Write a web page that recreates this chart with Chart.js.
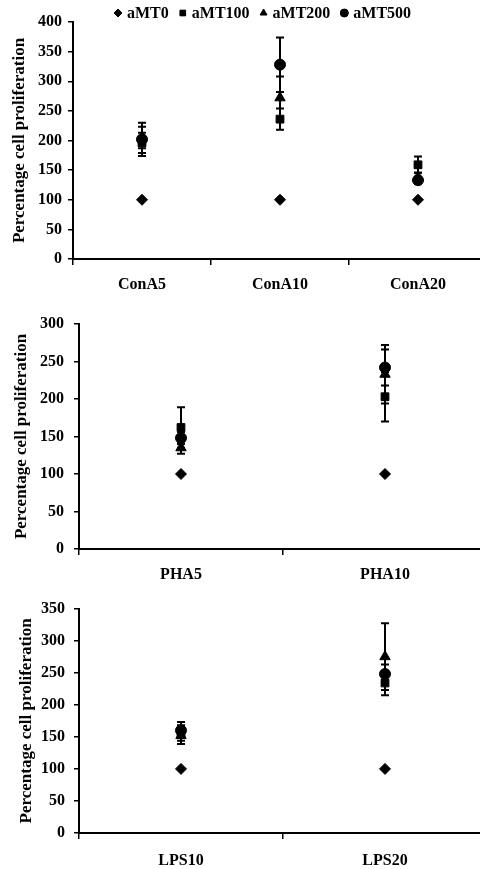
<!DOCTYPE html>
<html><head><meta charset="utf-8">
<script src="https://cdn.jsdelivr.net/npm/chart.js@4.4.1/dist/chart.umd.min.js"></script>
<style>
html,body{margin:0;padding:0;background:#fff;width:480px;height:869px;overflow:hidden;position:relative}
canvas{position:absolute;left:0}
</style></head><body>
<canvas id="c1" width="494" height="300" style="top:0px"></canvas>
<canvas id="c2" width="494" height="290" style="top:300px"></canvas>
<canvas id="c3" width="494" height="279" style="top:590px"></canvas>
<script>
// ---- data ----
const seriesNames = ['aMT0','aMT100','aMT200','aMT500'];
const pointStyles = ['rectRot','rect','triangle','circle'];
const yTitle = 'Percentage cell proliferation';

const conaCategories = ['ConA5','ConA10','ConA20'];
const conaAMT0   = [100,100,100];
const conaAMT100 = [196,236,159];
const conaAMT200 = [205,272,138];
const conaAMT500 = [202,328,133];
const conaErr0   = [0,0,0];
const conaErr100 = [17,18,14];
const conaErr200 = [18,36,8];
const conaErr500 = [28,46,6];
const conaTicksMax = 400;

const phaCategories = ['PHA5','PHA10'];
const phaAMT0   = [100,100];
const phaAMT100 = [162,203];
const phaAMT200 = [135,233];
const phaAMT500 = [148,242];
const phaErr0   = [0,0];
const phaErr100 = [27,33];
const phaErr200 = [8,39];
const phaErr500 = [8,24];
const phaTicksMax = 300;

const lpsCategories = ['LPS10','LPS20'];
const lpsAMT0   = [100,100];
const lpsAMT100 = [156,234];
const lpsAMT200 = [152,275];
const lpsAMT500 = [160,248];
const lpsErr0   = [0,0];
const lpsErr100 = [17,19];
const lpsErr200 = [8,52];
const lpsErr500 = [8,15];
const lpsTicksMax = 350;
const tickStep = 50;

// ---- drawing ----
const FONT = '"Liberation Serif","Times New Roman",serif';
const pointRadii = [5.5,5.5,6,5.5];

const errorBars = {
  id:'errorBars',
  beforeDatasetsDraw(chart){
    const ctx = chart.ctx, ys = chart.scales.y;
    ctx.save(); ctx.strokeStyle = '#000'; ctx.lineWidth = 2;
    chart.data.datasets.forEach((ds,i)=>{
      const meta = chart.getDatasetMeta(i);
      (ds.errors||[]).forEach((e,j)=>{
        if(!e) return;
        const pt = meta.data[j], v = ds.data[j];
        const yt = ys.getPixelForValue(v+e), yb = ys.getPixelForValue(v-e);
        ctx.beginPath();
        ctx.moveTo(pt.x,yt); ctx.lineTo(pt.x,yb);
        ctx.moveTo(pt.x-4,yt); ctx.lineTo(pt.x+4,yt);
        ctx.moveTo(pt.x-4,yb); ctx.lineTo(pt.x+4,yb);
        ctx.stroke();
      });
    });
    ctx.restore();
  }
};

const customLegend = {
  id:'customLegend',
  afterDraw(chart, args, opts){
    if(!opts.show) return;
    const ctx = chart.ctx;
    ctx.save();
    ctx.font = 'bold 16px ' + FONT;
    ctx.fillStyle = '#000'; ctx.strokeStyle = '#000';
    ctx.textBaseline = 'middle';
    let x = opts.x; const y = opts.y;
    chart.data.datasets.forEach((ds)=>{
      Chart.helpers.drawPoint(ctx, {pointStyle: ds.pointStyle, radius: 4, rotation: 0, borderWidth: 1}, x, y);
      ctx.fill();
      ctx.fillText(ds.label, x+9, y+1);
      x += 9 + ctx.measureText(ds.label).width + 14;
    });
    ctx.restore();
  }
};

function makeChart(id, categories, series, errors, yMax, L){
  const datasets = series.map((d,i)=>({
    label: seriesNames[i], data: d, errors: errors[i],
    showLine: false, pointStyle: pointStyles[i], pointRadius: pointRadii[i],
    pointHoverRadius: pointRadii[i],
    backgroundColor: '#000', borderColor: '#000', pointBorderWidth: 1
  }));
  return new Chart(document.getElementById(id), {
    type: 'line',
    data: { labels: categories, datasets },
    options: {
      responsive: false, animation: false, devicePixelRatio: 1,
      layout: { padding: { top: L.top, bottom: 0, left: 0, right: L.right } },
      plugins: { legend: { display: false }, tooltip: { enabled: false },
        customLegend: { show: !!L.legend, x: 118, y: 13 } },
      scales: {
        x: {
          offset: true,
          grid: { offset: true, drawOnChartArea: false, drawTicks: true, tickLength: 6, color: '#000', lineWidth: 1.5 },
          border: { display: true, color: '#000', width: 2 },
          ticks: { color: '#000', font: { family: FONT, size: 16, weight: 'bold' }, padding: L.xPad, maxRotation: 0 },
          afterFit(s){ s.height = L.xH; }
        },
        y: {
          min: 0, max: yMax,
          grid: { drawOnChartArea: false, drawTicks: true, tickLength: 5, color: '#000', lineWidth: 1.5 },
          border: { display: true, color: '#000', width: 2 },
          ticks: { stepSize: tickStep, color: '#000', font: { family: FONT, size: 16, weight: 'bold' }, padding: L.yPad },
          title: { display: true, text: yTitle, color: '#000', font: { family: FONT, size: 17, weight: 'bold' }, padding: { top: L.tPad, bottom: 0 } },
          afterFit(s){ s.width = L.yW; }
        }
      }
    },
    plugins: [errorBars, customLegend]
  });
}

makeChart('c1', conaCategories, [conaAMT0,conaAMT100,conaAMT200,conaAMT500],
  [conaErr0,conaErr100,conaErr200,conaErr500], conaTicksMax,
  { top: 22, right: 3, xH: 41, xPad: 10, yW: 73, yPad: 6, tPad: 9, legend: true });
makeChart('c2', phaCategories, [phaAMT0,phaAMT100,phaAMT200,phaAMT500],
  [phaErr0,phaErr100,phaErr200,phaErr500], phaTicksMax,
  { top: 24, right: 2, xH: 41, xPad: 10, yW: 79, yPad: 10, tPad: 11, legend: false });
makeChart('c3', lpsCategories, [lpsAMT0,lpsAMT100,lpsAMT200,lpsAMT500],
  [lpsErr0,lpsErr100,lpsErr200,lpsErr500], lpsTicksMax,
  { top: 17, right: 2, xH: 36, xPad: 12, yW: 79, yPad: 9, tPad: 16, legend: false });
</script>
</body></html>
